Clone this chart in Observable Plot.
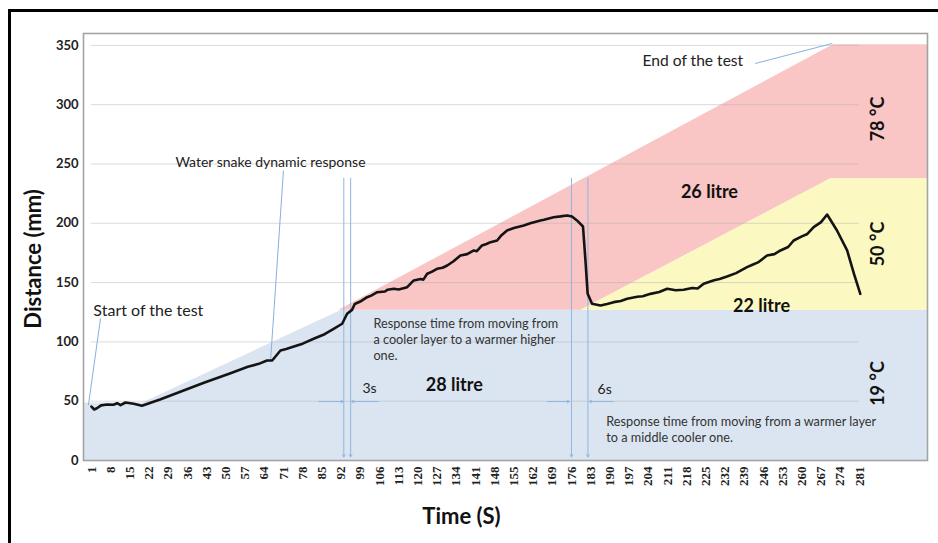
<!DOCTYPE html>
<html><head><meta charset="utf-8">
<script src="https://cdn.jsdelivr.net/npm/d3@7"></script>
<script src="https://cdn.jsdelivr.net/npm/@observablehq/plot@0.6"></script>
<style>
body{margin:0;background:#fff;}
#wrap{position:relative;width:938px;height:543px;overflow:hidden;}
#border{position:absolute;left:8px;top:9px;width:960px;height:560px;border-left:3px solid #000;border-top:3px solid #000;pointer-events:none;z-index:2;}
#chart{position:absolute;left:0;top:0;}
</style></head><body>
<div id="wrap"><div id="chart"></div><div id="border"></div></div>
<script>
// Curve: time (s) and distance (mm)
const timeS = [1,2,3,4.5,6.7,9,10.4,11.6,13.4,16.4,19.4,26,33.4,42,51.7,58,62,65,66.9,69.9,72,74.8,78,82,86,89.3,92.4,94.2,96,97,99,101.5,103,105.2,108,109,111.2,113,116.1,118.5,121,122,123.4,125,127,129,130.7,133,135.5,138,140.4,141.5,143.4,145,146.5,148.9,150.5,152.5,155,158.6,161,164.7,166,169.5,172,174.4,176.2,178,180.2,181.1,181.9,183.5,186.6,189,191.4,194,196.3,200,202,204.8,208,210.9,214,216.9,220,222,224.2,228,230,232.7,236,240,242,244,247.3,250,252.2,255,257,260,262,264.3,267,269.2,272.8,276.5,279,281.3];
const distanceMm = [45.5,43,44,46.5,47.2,47,48.3,46.6,48.9,47.8,46.1,51.5,58,65.5,73.5,79,81.5,84.3,84.3,92.7,94,96.1,98.5,102.6,106.5,111,115.3,123.7,127,132,134,137.7,139,141.9,142.5,144,144.8,144.2,146.1,151.8,153,152.5,157.4,159,161.6,162.5,164.4,168,172.9,174,177.1,176.5,181.3,182.5,184.1,185.5,190,193.9,196,198.1,200,202.4,203,205.1,205.8,206.6,205.7,202.4,197.3,168.6,140.5,132.1,130.7,132,133.5,134.5,136.3,138,138.5,140.5,142,144.8,143.5,143.9,145.5,145,149,152,153,155.1,158,163,165,167,172.9,174,177.1,180,185.5,189,191,196.7,201,207.4,193.9,177.1,157.4,140.5];

const xTickLabels = [1,8,15,22,29,36,43,50,57,64,71,78,85,92,99,106,113,120,127,134,141,148,155,162,169,176,183,190,197,204,211,218,225,232,239,246,253,260,267,274,281];
const yTickLabels = [0,50,100,150,200,250,300,350];

// Layer zones (polygon vertices, time s / distance mm)
const coolZoneT  = [-1.9, -1.9, 19.5, 92, 305.8, 305.8];
const coolZoneMm = [0, 49, 49, 127, 127, 0];
const hotZoneT   = [91, 271.3, 305.8, 305.8, 270.4, 179.3];
const hotZoneMm  = [127, 351, 351, 238, 238, 127];
const midZoneT   = [179.3, 270.4, 305.8, 305.8];
const midZoneMm  = [127, 238, 238, 127];

// Response-time markers (time s)
const markerTimes = [93, 95.5, 176, 182];

// Annotations
const noteTexts = ["Start of the test", "Water snake dynamic response", "End of the test"];
const noteT  = [1.7, 31.6, 201.9];
const noteMm = [126.5, 251.3, 336.4];
const pointerFromT  = [4.3, 71, 243];
const pointerFromMm = [119.7, 244.5, 334.7];
const pointerToT    = [-0.1, 66.3, 271.1];
const pointerToMm   = [46.7, 84.3, 351.6];

const responseTexts = ["Response time from moving from\na cooler layer to a warmer higher\none.", "Response time from moving from a warmer layer\nto a middle cooler one."];
const responseT = [103.8, 188.7];
const responseMm = [120.8, 38.5];

const secondsTexts = ["3s", "6s"];
const secondsT = [99.8, 185.5];
const secondsMm = [60.7, 59.5];

const volumeTexts = ["28 litre", "26 litre", "22 litre"];
const volumeT = [133.3, 226.3, 245.3];
const volumeMm = [63.2, 226.2, 130.1];

const tempTexts = ["78 °C", "50 °C", "19 °C"];
const tempT = [287.7, 287.7, 287.7];
const tempMm = [287.9, 182.5, 64.9];

// arrows along the 50 mm line (time s)
const arrowFromT = [83.8, 105.6, 167.2, 191.3];
const arrowToT   = [92.8, 95.8, 175.3, 182.5];
const arrowMm = 49.7;

const zip = (a, b) => a.map((v, i) => ({x: v, y: b[i]}));
const curve = zip(timeS, distanceMm);
const coolZone = zip(coolZoneT, coolZoneMm);
const hotZone = zip(hotZoneT, hotZoneMm);
const midZone = zip(midZoneT, midZoneMm);
const notes = noteTexts.map((t, i) => ({text: t, x: noteT[i], y: noteMm[i]}));
const pointers = noteTexts.map((t, i) => ({x1: pointerFromT[i], y1: pointerFromMm[i], x2: pointerToT[i], y2: pointerToMm[i]}));
const responses = responseTexts.map((t, i) => ({text: t, x: responseT[i], y: responseMm[i]}));
const seconds = secondsTexts.map((t, i) => ({text: t, x: secondsT[i], y: secondsMm[i]}));
const volumes = volumeTexts.map((t, i) => ({text: t, x: volumeT[i], y: volumeMm[i]}));
const temps = tempTexts.map((t, i) => ({text: t, x: tempT[i], y: tempMm[i]}));
const hArrows = arrowFromT.map((v, i) => ({x1: v, x2: arrowToT[i], y: arrowMm}));
const vArrows = markerTimes.map(v => ({x: v}));

const font = "Lato, 'Open Sans', sans-serif";
const plot = Plot.plot({
  width: 938, height: 543,
  marginLeft: 83, marginRight: 11, marginTop: 33, marginBottom: 83,
  style: {fontFamily: font, background: "transparent", overflow: "visible"},
  x: {domain: [-1.9, 305.8]},
  y: {domain: [0, 360]},
  marks: [
    Plot.line(coolZone, {x: "x", y: "y", fill: "#dbe5f1", stroke: "none"}),
    Plot.line(hotZone, {x: "x", y: "y", fill: "#f9c5c5", stroke: "none"}),
    Plot.line(midZone, {x: "x", y: "y", fill: "#fbf9c1", stroke: "none"}),
    Plot.ruleY(yTickLabels.slice(1), {x1: 1, x2: 281, stroke: "#b0b0b0", strokeOpacity: 0.45, strokeWidth: 1}),
    Plot.arrow(vArrows, {x1: "x", x2: "x", y1: 238, y2: 3, stroke: "#8fb6de", strokeWidth: 1, headLength: 4}),
    Plot.arrow(hArrows, {x1: "x1", x2: "x2", y1: "y", y2: "y", stroke: "#8fb6de", strokeWidth: 1, headLength: 4}),
    Plot.link(pointers, {x1: "x1", y1: "y1", x2: "x2", y2: "y2", stroke: "#86b1db", strokeWidth: 1}),
    Plot.line(curve, {x: "x", y: "y", stroke: "#141414", strokeWidth: 2.6, strokeLinejoin: "round"}),
    Plot.text(notes.slice(0, 1), {x: "x", y: "y", text: "text", textAnchor: "start", fontSize: 16, fill: "#222"}),
    Plot.text(notes.slice(1, 2), {x: "x", y: "y", text: "text", textAnchor: "start", fontSize: 14, fill: "#222"}),
    Plot.text(notes.slice(2, 3), {x: "x", y: "y", text: "text", textAnchor: "start", fontSize: 15.6, fill: "#222"}),
    Plot.text(responses, {x: "x", y: "y", text: "text", textAnchor: "start", lineAnchor: "top", lineHeight: 1.25, fontSize: 12.7, fill: "#333"}),
    Plot.text(seconds, {x: "x", y: "y", text: "text", textAnchor: "start", fontSize: 14, fill: "#222"}),
    Plot.text(volumes, {x: "x", y: "y", text: "text", fontSize: 18, fontWeight: "bold", fill: "#111"}),
    Plot.text(temps, {x: "x", y: "y", text: "text", rotate: -90, fontSize: 18, fontWeight: "bold", fill: "#111"}),
    Plot.frame({stroke: "#a3a3a3", strokeWidth: 1.6}),
    Plot.axisY({ticks: yTickLabels, tickSize: 0, tickPadding: 5, fontSize: 13, fontWeight: "bold", label: null, fill: "#222"}),
    Plot.axisX({ticks: xTickLabels, tickSize: 0, tickPadding: 6, tickRotate: -90, fontSize: 13, fontWeight: "bold", fontFamily: "'Liberation Serif', serif", label: null, fill: "#222"}),
    Plot.text(["Time (S)"], {x: 135.9, frameAnchor: "bottom", dy: 63, fontSize: 22, fontWeight: "bold", fill: "#111"}),
    Plot.text(["Distance (mm)"], {y: 170, frameAnchor: "left", textAnchor: "middle", dx: -50, rotate: -90, fontSize: 22, fontWeight: "bold", fill: "#111"})
  ]
});
document.getElementById("chart").appendChild(plot);
</script>
</body></html>
